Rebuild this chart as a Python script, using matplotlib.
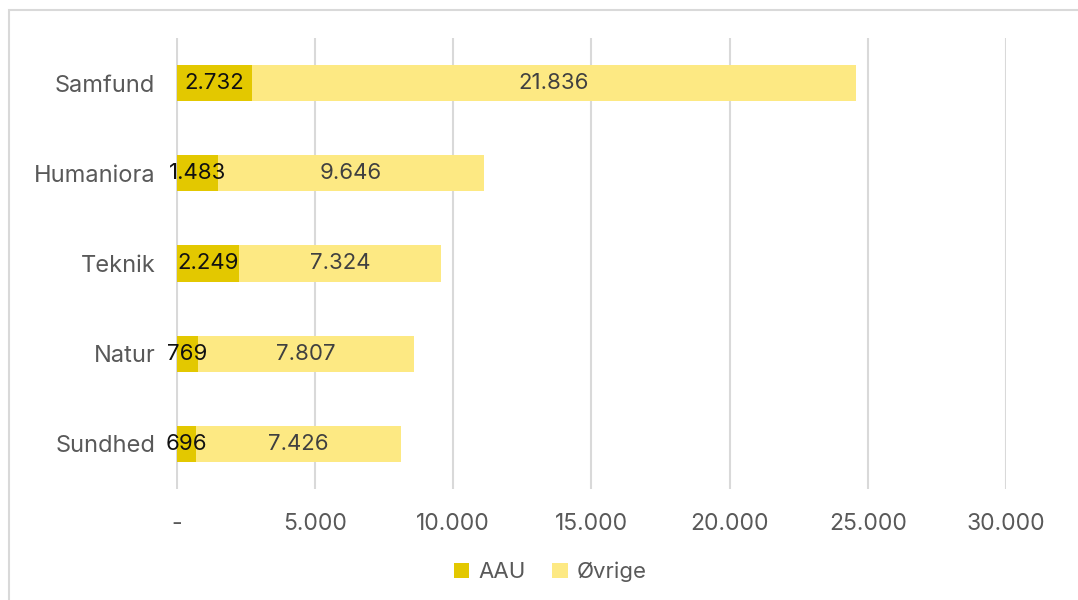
import numpy as np
import matplotlib.pyplot as plt
from matplotlib.patches import Rectangle

plt.rcParams['font.family'] = ['Inter', 'DejaVu Sans']

categories = ['Samfund', 'Humaniora', 'Teknik', 'Natur', 'Sundhed']
aau = [2732, 1483, 2249, 769, 696]
ovrige = [21836, 9646, 7324, 7807, 7426]
xticks = [0, 5000, 10000, 15000, 20000, 25000, 30000]
xticklabels = ['-', '5.000', '10.000', '15.000', '20.000', '25.000', '30.000']

c_aau = '#E3C800'
c_ovr = '#FDE983'

W, H = 1078, 600
fig = plt.figure(figsize=(W / 100, H / 100), dpi=100)
ax = fig.add_axes([176 / W, 1 - 489 / H, (1006 - 176) / W, (489 - 38) / H])

# frame around the chart
fig.patches.append(Rectangle((9 / W, -0.01), 1.0, 1 - 9.5 / H - (-0.01),
                             transform=fig.transFigure, fill=False,
                             edgecolor='#D9D9D9', linewidth=1.5))

def fmt(v):
    return '{:,}'.format(v).replace(',', '.')

y = np.arange(len(categories))
b1 = ax.barh(y, aau, height=0.4, color=c_aau, zorder=3)
b2 = ax.barh(y, ovrige, left=aau, height=0.4, color=c_ovr, zorder=3)

for i in range(len(categories)):
    ax.text(aau[i] / 2, y[i], fmt(aau[i]), ha='center', va='center',
            fontsize=16, color='#111111', zorder=4)
    ax.text(aau[i] + ovrige[i] / 2, y[i], fmt(ovrige[i]), ha='center', va='center',
            fontsize=16, color='#404040', zorder=4)

ax.set_ylim(len(categories) - 0.5, -0.5)
ax.set_xlim(-30, 30000)
ax.set_yticks(y)
ax.set_yticklabels(categories, fontsize=17, color='#595959')
ax.set_xticks(xticks)
ax.set_xticklabels(xticklabels, fontsize=16.5, color='#595959')
ax.tick_params(length=0)
ax.tick_params(axis='x', pad=17)
ax.tick_params(axis='y', pad=15)
ax.grid(axis='x', color='#D9D9D9', linewidth=1.5, zorder=0)
for s in ax.spines.values():
    s.set_visible(False)

fig.legend([b1, b2], ['AAU', 'Øvrige'], loc='center', bbox_to_anchor=(550 / W, 1 - 572 / H),
           ncol=2, frameon=False, fontsize=16, handlelength=0.7, handleheight=0.7,
           handletextpad=0.4, columnspacing=1.2, labelcolor='#595959')

fig.savefig('out.png', dpi=100)
